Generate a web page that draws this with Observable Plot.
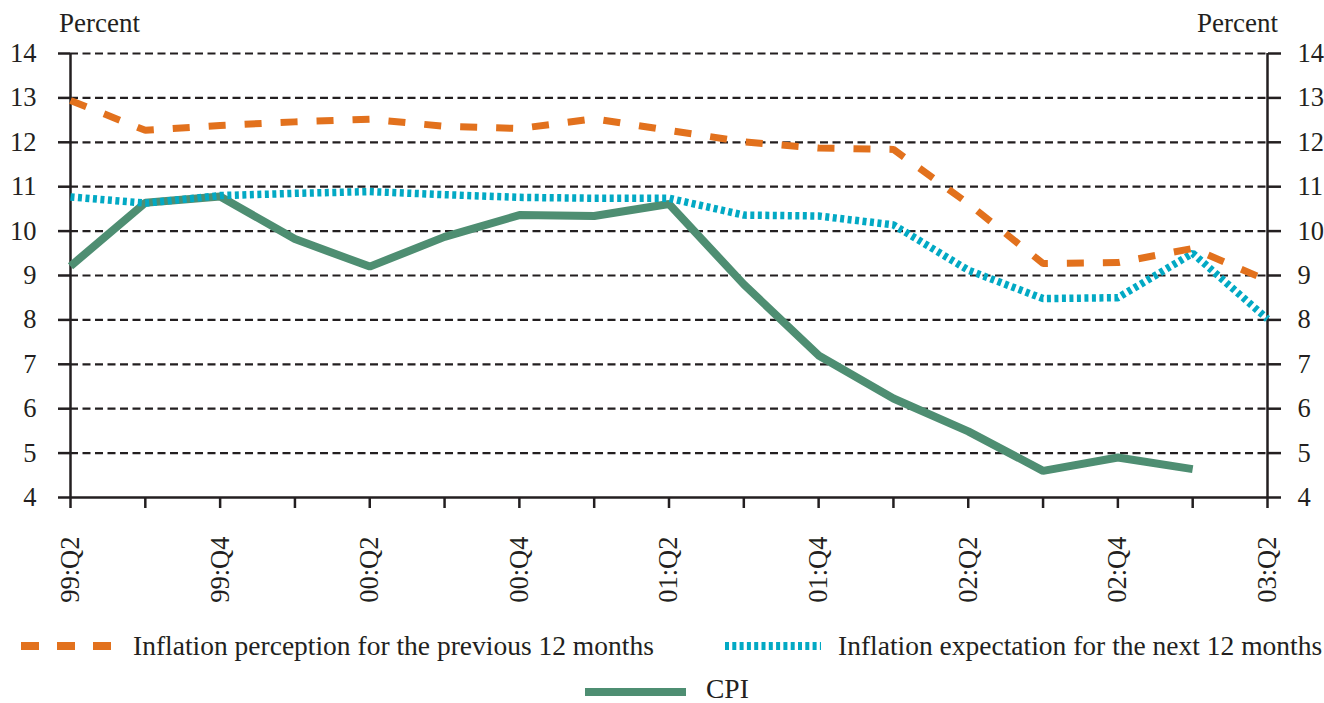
<!DOCTYPE html>
<html>
<head>
<meta charset="utf-8">
<script src="https://cdn.jsdelivr.net/npm/d3@7"></script>
<script src="https://cdn.jsdelivr.net/npm/@observablehq/plot@0.6"></script>
<style>
  html, body { margin: 0; padding: 0; background: #fff; }
  #wrap { position: relative; width: 1324px; height: 703px; overflow: hidden; font-family: "Liberation Serif", "Times New Roman", serif; color: #231f20; }
  .unit { position: absolute; top: 8px; font-size: 27px; line-height: 30px; }
  .leg { position: absolute; font-size: 27.5px; line-height: 24px; white-space: nowrap; }
  .sw { position: absolute; }
</style>
</head>
<body>
<div id="wrap"></div>
<script>
const quarters = ["99:Q2","99:Q3","99:Q4","00:Q1","00:Q2","00:Q3","00:Q4","01:Q1","01:Q2","01:Q3","01:Q4","02:Q1","02:Q2","02:Q3","02:Q4","03:Q1","03:Q2"];
const perception = [12.94,12.27,12.38,12.46,12.52,12.36,12.31,12.53,12.27,12.01,11.87,11.84,10.62,9.27,9.29,9.61,8.89];
const expectation = [10.77,10.63,10.80,10.85,10.89,10.82,10.76,10.74,10.74,10.36,10.34,10.14,9.12,8.48,8.50,9.50,8.02];
const cpi = [9.21,10.64,10.78,9.82,9.20,9.87,10.36,10.34,10.61,8.80,7.20,6.23,5.49,4.60,4.90,4.64,null];
const yTicks = [4,5,6,7,8,9,10,11,12,13,14];
const gridVals = [5,6,7,8,9,10,11,12,13,14];
const seriesNames = ["Inflation perception for the previous 12 months","Inflation expectation for the next 12 months","CPI"];
const colors = {orange: "#e2711d", cyan: "#02a9c4", green: "#4e8e72", ink: "#231f20"};

const rows = (vals) => quarters.map((q, i) => ({q, v: vals[i]})).filter(d => d.v != null);

const chart = Plot.plot({
  width: 1324,
  height: 620,
  marginLeft: 70,
  marginRight: 57,
  marginTop: 53,
  marginBottom: 123,
  style: {fontFamily: "Liberation Serif, Times New Roman, serif", color: colors.ink, background: "white"},
  x: {type: "point", domain: quarters, padding: 0, round: false},
  y: {domain: [4, 14]},
  marks: [
    Plot.ruleY(gridVals, {stroke: colors.ink, strokeWidth: 2.2, strokeDasharray: "8,4.5"}),
    Plot.ruleY([4], {stroke: colors.ink, strokeWidth: 2.5}),
    Plot.ruleX([quarters[0], quarters[quarters.length - 1]], {y1: 4, y2: 14, stroke: colors.ink, strokeWidth: 2.5}),
    Plot.line(rows(cpi), {x: "q", y: "v", stroke: colors.green, strokeWidth: 8, strokeLinecap: "butt", strokeLinejoin: "miter"}),
    Plot.line(rows(expectation), {x: "q", y: "v", stroke: colors.cyan, strokeWidth: 7.5, strokeDasharray: "4,3.5", strokeLinecap: "butt", strokeLinejoin: "miter"}),
    Plot.line(rows(perception), {x: "q", y: "v", stroke: colors.orange, strokeWidth: 7, strokeDasharray: "17,19", strokeLinecap: "butt", strokeLinejoin: "miter"}),
    Plot.axisY({anchor: "left", ticks: yTicks, tickSize: 12, tickPadding: 22, fontSize: 26.5, label: null, stroke: colors.ink, strokeWidth: 2.5}),
    Plot.axisY({anchor: "right", ticks: yTicks, tickSize: 13, tickPadding: 17, fontSize: 26.5, label: null, stroke: colors.ink, strokeWidth: 2.5}),
    Plot.axisX({ticks: quarters, tickSize: 11, tickPadding: 28, tickRotate: -90, fontSize: 26.5, label: null, stroke: colors.ink, strokeWidth: 2.5,
      tickFormat: (d) => quarters.indexOf(d) % 2 === 0 ? d : ""})
  ]
});

const wrap = document.getElementById("wrap");
chart.style.position = "absolute";
chart.style.left = "0px";
chart.style.top = "0px";
wrap.appendChild(chart);

function addText(cls, txt, css) {
  const el = document.createElement("div");
  el.className = cls;
  el.textContent = txt;
  Object.assign(el.style, css);
  wrap.appendChild(el);
  return el;
}
addText("unit", "Percent", {left: "59px"});
addText("unit", "Percent", {right: "46px"});

function swatch(left, top, w, color, sw, dash) {
  const ns = "http://www.w3.org/2000/svg";
  const s = document.createElementNS(ns, "svg");
  s.setAttribute("width", w); s.setAttribute("height", 12);
  s.setAttribute("class", "sw");
  s.style.left = left + "px"; s.style.top = (top - 6) + "px";
  const l = document.createElementNS(ns, "line");
  l.setAttribute("x1", 0); l.setAttribute("x2", w); l.setAttribute("y1", 6); l.setAttribute("y2", 6);
  l.setAttribute("stroke", color); l.setAttribute("stroke-width", sw);
  if (dash) l.setAttribute("stroke-dasharray", dash);
  s.appendChild(l);
  wrap.appendChild(s);
}
swatch(21, 646, 92, colors.orange, 8, "18,18");
addText("leg", seriesNames[0], {left: "133px", top: "634px"});
swatch(725, 646, 96, colors.cyan, 8, "4,3.3");
addText("leg", seriesNames[1], {left: "838px", top: "634px"});
swatch(585, 692, 101, colors.green, 8, null);
addText("leg", seriesNames[2], {left: "706px", top: "677px"});
</script>
</body>
</html>
